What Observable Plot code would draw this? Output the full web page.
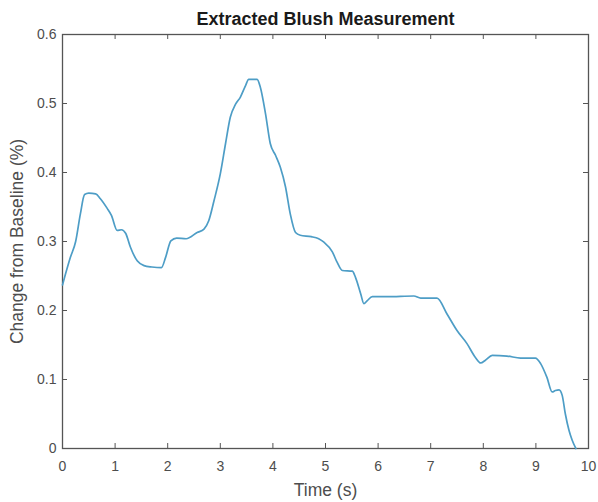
<!DOCTYPE html>
<html>
<head>
<meta charset="utf-8">
<script src="https://cdn.jsdelivr.net/npm/d3@7"></script>
<script src="https://cdn.jsdelivr.net/npm/@observablehq/plot@0.6"></script>
<style>
  html, body { margin: 0; padding: 0; background: #fff; }
  #chart svg { display: block; }
</style>
</head>
<body>
<div id="chart"></div>
<script>
const title = "Extracted Blush Measurement";
const xLabel = "Time (s)";
const yLabel = "Change from Baseline (%)";
const xTicks = [0, 1, 2, 3, 4, 5, 6, 7, 8, 9, 10];
const yTicks = [0, 0.1, 0.2, 0.3, 0.4, 0.5, 0.6];

const time = [
  0, 0.15, 0.25, 0.34, 0.42, 0.5, 0.63, 0.72, 0.85, 0.93,
  1.04, 1.12, 1.2, 1.29, 1.42, 1.55, 1.7, 1.88, 1.96, 2.06,
  2.17, 2.35, 2.56, 2.69, 2.78, 2.88, 3.0, 3.1, 3.19, 3.29,
  3.38, 3.48, 3.54, 3.70, 3.76, 3.86, 3.95, 4.05, 4.14, 4.24,
  4.33, 4.43, 4.52, 4.73, 4.87, 4.97, 5.13, 5.22, 5.32, 5.51,
  5.57, 5.67, 5.73, 5.79, 5.89, 6.17, 6.68, 6.81, 7.12, 7.31,
  7.50, 7.69, 7.85, 7.95, 8.04, 8.17, 8.45, 8.71, 8.99, 9.09,
  9.21, 9.31, 9.37, 9.44, 9.50, 9.56, 9.63, 9.69, 9.76
];
const change = [
  0.237, 0.277, 0.30, 0.34, 0.368, 0.37, 0.369, 0.362, 0.348, 0.338,
  0.316, 0.317, 0.312, 0.292, 0.272, 0.265, 0.263, 0.262, 0.277, 0.301,
  0.305, 0.304, 0.313, 0.318, 0.330, 0.359, 0.398, 0.442, 0.480, 0.499,
  0.509, 0.526, 0.535, 0.535, 0.524, 0.485, 0.442, 0.425, 0.408, 0.379,
  0.340, 0.313, 0.309, 0.307, 0.304, 0.299, 0.285, 0.270, 0.258, 0.257,
  0.248, 0.224, 0.210, 0.214, 0.220, 0.220, 0.221, 0.218, 0.218, 0.195,
  0.171, 0.152, 0.132, 0.124, 0.128, 0.135, 0.134, 0.131, 0.131, 0.123,
  0.103, 0.082, 0.084, 0.085, 0.077, 0.050, 0.026, 0.012, 0.0
];

const data = time.map((t, i) => ({t, v: change[i]}));

const W = 598, H = 502;
const mTop = 34, mBottom = 54, mLeft = 62, mRight = 10;
const innerH = H - mTop - mBottom;
const innerW = W - mLeft - mRight;
const tickLen = 5;
const axisColor = "#555";
const textColor = "#4d4d4d";
const font = "'Liberation Sans', Arial, Helvetica, sans-serif";

const chart = Plot.plot({
  width: W,
  height: H,
  marginTop: mTop,
  marginBottom: mBottom,
  marginLeft: mLeft,
  marginRight: mRight,
  style: {fontFamily: font, fontSize: "14px", background: "#fff"},
  x: {domain: [0, 10], ticks: xTicks},
  y: {domain: [0, 0.6], ticks: yTicks},
  marks: [
    Plot.axisX(xTicks, {tickSize: 0, tickPadding: 13, fontSize: 14, color: textColor, label: null, tickFormat: d => String(d)}),
    Plot.axisY(yTicks, {tickSize: 0, tickPadding: 6, fontSize: 14, color: textColor, label: null, tickFormat: d => String(d)}),
    Plot.tickX(xTicks, {x: d => d, insetTop: innerH - tickLen, stroke: axisColor}),
    Plot.tickX(xTicks, {x: d => d, insetBottom: innerH - tickLen, stroke: axisColor}),
    Plot.tickY(yTicks, {y: d => d, insetRight: innerW - tickLen, stroke: axisColor}),
    Plot.tickY(yTicks, {y: d => d, insetLeft: innerW - tickLen, stroke: axisColor}),
    Plot.frame({stroke: axisColor, strokeWidth: 1.3}),
    Plot.line(data, {x: "t", y: "v", stroke: "#4d9dc6", strokeWidth: 1.7, curve: "monotone-x"}),
    Plot.text([title], {frameAnchor: "top", dy: -15, lineAnchor: "middle", fontWeight: "bold", fontSize: 18, fill: "#1a1a1a"}),
    Plot.text([xLabel], {frameAnchor: "bottom", dy: 42, lineAnchor: "middle", fontSize: 17.5, fill: textColor}),
    Plot.text([yLabel], {frameAnchor: "left", dx: -45, rotate: -90, lineAnchor: "middle", textAnchor: "middle", fontSize: 17.5, fill: textColor})
  ]
});

document.getElementById("chart").appendChild(chart);
</script>
</body>
</html>
